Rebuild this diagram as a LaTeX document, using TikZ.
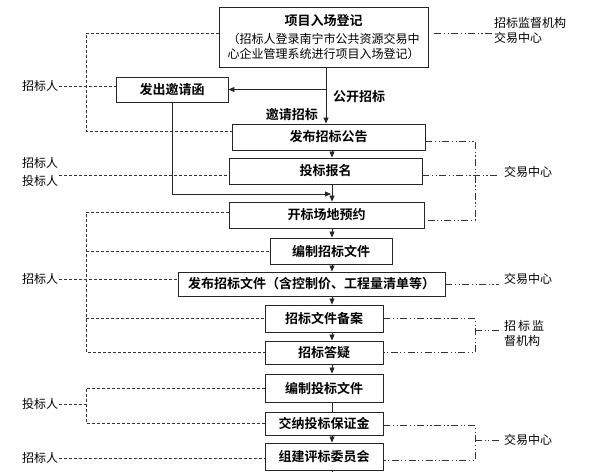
\documentclass[tikz,border=0pt]{standalone}
\usepackage{fontspec}
\setmainfont{Noto Sans CJK SC}[BoldFont={Noto Sans CJK SC Bold}]
\usetikzlibrary{arrows.meta}
\tikzset{
  stepbox/.style={draw=black!85, line width=0.9pt, inner sep=0pt, font=\fontsize{13}{15}\selectfont\bfseries},
  side/.style={inner sep=1pt, font=\fontsize{12}{15}\selectfont},
  flow/.style={draw=black!85, line width=0.8pt},
  arr/.style={flow, -{Triangle[length=6pt,width=5pt]}},
  dsh/.style={draw=black!80, line width=0.7pt, dash pattern=on 3pt off 2pt},
  ddot/.style={draw=black!80, line width=0.7pt, dash pattern=on 7pt off 2.5pt on 1.2pt off 2.5pt on 1.2pt off 2.5pt},
}
\begin{document}
\begin{tikzpicture}[x=1pt,y=-1pt]
\useasboundingbox (0,0) rectangle (600,472);
% boxes
\node[stepbox, minimum width=209pt, minimum height=60pt, align=center] (b1) at (323.5,37)
  {项目入场登记\\[3pt]\mdseries\fontsize{12}{18}\selectfont （招标人登录南宁市公共资源交易中\\\mdseries\fontsize{12}{18}\selectfont 心企业管理系统进行项目入场登记）};
\node[stepbox, minimum width=112pt, minimum height=25pt] (inv) at (172,89.5) {发出邀请函};
\node[stepbox, minimum width=193pt, minimum height=26pt] (b2) at (328.5,137) {发布招标公告};
\node[stepbox, minimum width=193pt, minimum height=26pt] (b3) at (325.5,171) {投标报名};
\node[stepbox, minimum width=195pt, minimum height=26pt] (b4) at (326.5,215) {开标场地预约};
\node[stepbox, minimum width=122pt, minimum height=26pt] (b5) at (331,251) {编制招标文件};
\node[stepbox, minimum width=267pt, minimum height=24pt] (b6) at (311.5,284) {发布招标文件（含控制价、工程量清单等）};
\node[stepbox, minimum width=118pt, minimum height=27pt] (b7) at (324,318.5) {招标文件备案};
\node[stepbox, minimum width=118pt, minimum height=23pt] (b8) at (324,352.5) {招标答疑};
\node[stepbox, minimum width=118pt, minimum height=28pt] (b9) at (324,388) {编制投标文件};
\node[stepbox, minimum width=118pt, minimum height=23pt] (b10) at (324,423.5) {交纳投标保证金};
\node[stepbox, minimum width=118pt, minimum height=27pt] (b11) at (324,456.5) {组建评标委员会};
% labels on flow
\node[anchor=west, inner sep=0pt, font=\fontsize{13}{15}\selectfont\bfseries] (gk) at (333,97) {公开招标};
\node[anchor=east, inner sep=0pt, font=\fontsize{13}{15}\selectfont\bfseries] (yq) at (318,115) {邀请招标};
% left labels
\node[side, anchor=west] (L1) at (21,86) {招标人};
\node[side, anchor=west] (L2) at (21,163) {招标人};
\node[side, anchor=west] (L3) at (21,181) {投标人};
\node[side, anchor=west] (L4) at (21,279) {招标人};
\node[side, anchor=west] (L5) at (21,404) {投标人};
\node[side, anchor=west] (L6) at (21,458) {招标人};
% right labels
\node[side, anchor=west, align=left] (R1) at (493,30) {招标监督机构\\交易中心};
\node[side, anchor=west] (R2) at (503,172) {交易中心};
\node[side, anchor=west] (R3) at (503,279) {交易中心};
\node[side, anchor=west, align=left] (R4) at (503,333) {招\,标\,监\\督机构};
\node[side, anchor=west] (R5) at (503,440) {交易中心};
% helper coordinates
\coordinate (tx) at (326,0);
\coordinate (mx) at (332,0);
\coordinate (lx) at (86,0);
\coordinate (rx) at (475,0);
\coordinate (jy) at (0,194);
\coordinate (bot) at (332,472);
% main flow
\draw[arr] (b1.south -| tx) -- (b2.north -| tx);
\draw[arr] (inv.east -| tx) -- (inv.east);
\draw[arr] (b2.south -| mx) -- (b3.north -| mx);
\draw[arr] (b3.south -| mx) -- (b4.north -| mx);
\draw[arr] (inv.south) |- ([xshift=-1pt]jy -| mx);
\draw[arr] (b4.south -| mx) -- (b5.north -| mx);
\draw[arr] (b5.south -| mx) -- (b6.north -| mx);
\draw[arr] (b6.south -| mx) -- (b7.north -| mx);
\draw[arr] (b7.south -| mx) -- (b8.north -| mx);
\draw[arr] (b8.south -| mx) -- (b9.north -| mx);
\draw[flow] (b9.south -| mx) -- (b10.north -| mx);
\draw[arr] (b10.south -| mx) -- (b11.north -| mx);
\draw[flow] (b11.south -| mx) -- (bot);
% left dashed connectors
\path ([yshift=4pt]b1.west) coordinate (p1) ([yshift=6pt]b2.west) coordinate (p2);
\draw[dsh] (p1) -- (p1 -| lx) -- (p2 -| lx) -- (p2);
\draw[dsh] (L1.east) -- (L1.east -| inv.west);
\path ([yshift=-4pt]b3.west) coordinate (p3);
\draw[dsh] (p3 -| L3.east) -- (p3);
\path ([yshift=3pt]b4.west) coordinate (p4) (b5.west) coordinate (p5)
      (b7.west) coordinate (p7) (b8.west) coordinate (p8);
\draw[dsh] (p4) -- (p4 -| lx) -- (p8 -| lx) -- (p8);
\draw[dsh] (p5 -| lx) -- (p5);
\draw[dsh] (p7 -| lx) -- (p7);
\draw[dsh] (L4.east) -- (L4.east -| b6.west);
\path (b9.west) coordinate (p9) (b10.west) coordinate (p10);
\draw[dsh] (p9) -- (p9 -| lx) -- (p10 -| lx) -- (p10);
\draw[dsh] (L5.east) -- (L5.east -| lx);
\draw[dsh] (L6.east) -- (L6.east -| b11.west);
% right dash-dot connectors
\path ([yshift=4pt]b1.east) coordinate (q1);
\draw[ddot] ([xshift=6pt]q1) -- (q1 -| R1.west);
\path ([yshift=-4pt]b2.east) coordinate (q2) ([yshift=-4pt]b3.east) coordinate (q3) ([yshift=-5pt]b4.east) coordinate (q4);
\draw[ddot] (q2) -- (q2 -| rx) -- (q4 -| rx) -- (q4);
\draw[ddot] (q3) -- ([xshift=-4pt]q3 -| R2.west);
\draw[ddot] (b6.east) -- ([xshift=-4pt]b6.east -| R3.west);
\path (b7.east) coordinate (q7) (b8.east) coordinate (q8) ([yshift=3pt]R4.west) coordinate (q78);
\draw[ddot] (q7) -- (q7 -| rx) -- (q8 -| rx) -- (q8);
\draw[ddot] (q78 -| rx) -- ([xshift=-4pt]q78);
\path ([yshift=-2pt]b10.east) coordinate (q10) ([yshift=-4pt]b11.east) coordinate (q11) (R5.west) coordinate (q1011);
\draw[ddot] (q10) -- (q10 -| rx) -- (q11 -| rx) -- (q11);
\draw[ddot] (q1011 -| rx) -- ([xshift=-4pt]q1011);
\end{tikzpicture}
\end{document}
